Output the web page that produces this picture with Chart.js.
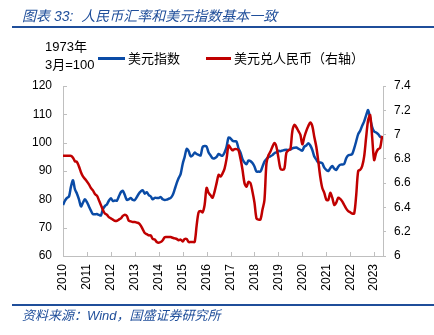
<!DOCTYPE html>
<html>
<head>
<meta charset="utf-8">
<script src="https://cdn.jsdelivr.net/npm/chart.js@4"></script>
<style>
  body { margin: 0; background: #fff; }
  #wrap { position: relative; width: 434px; height: 335px; overflow: hidden; font-family: "Liberation Sans", Arial, "Noto Sans CJK SC", sans-serif; }
  #wrap canvas { position: absolute; left: 0; top: 0; }
  .title { position: absolute; left: 22px; top: 5px; font-size: 14px; font-style: italic; color: #1f4e9a; white-space: pre; font-family: "Liberation Sans", "Noto Sans CJK SC", sans-serif; }
  .rule { position: absolute; left: 12px; right: 0; height: 2px; background: #1f4e9a; }
  .unit { position: absolute; left: 45px; font-size: 13px; color: #000; line-height: 16px; font-family: "Liberation Sans", "Noto Sans CJK SC", sans-serif; }
  .key { position: absolute; top: 50px; font-size: 13px; color: #000; font-family: "Noto Sans CJK SC", sans-serif; line-height: 16px; white-space: nowrap; }
  .swatch { position: absolute; height: 3px; top: 57px; }
  .source { position: absolute; left: 22px; top: 305px; font-size: 13px; font-style: italic; color: #1f4e9a; font-family: "Liberation Sans", "Noto Sans CJK SC", sans-serif; }
</style>
</head>
<body>
<div id="wrap">
  <canvas id="chart" width="434" height="335"></canvas>
  <div class="title">图表 33:  人民币汇率和美元指数基本一致</div>
  <div class="rule" style="top:26px"></div>
  <div class="unit" style="top:39px">1973年</div>
  <div class="unit" style="top:57px">3月=100</div>
  <div class="swatch" style="left:98px;width:27px;background:#0a4ba6"></div>
  <div class="key" style="left:128px">美元指数</div>
  <div class="swatch" style="left:206px;width:25px;background:#c00000"></div>
  <div class="key" style="left:234px">美元兑人民币（右轴）</div>
  <div class="rule" style="top:304px"></div>
  <div class="source">资料来源：Wind，国盛证券研究所</div>
</div>
<script>
// monthly values, Jan 2010 - May 2023
const startYear = 2010;
const xMin = 2010;
const xMax = 2023.37;

const usdIndex = [
  78, 79.5, 80.5, 81, 84.5, 86.7, 83.5, 82, 80, 77.5, 78.8, 80,
  79, 77.5, 76, 74.8, 74.7, 74.8, 74.5, 74.3, 76.5, 77.6, 78.2, 79.5,
  80.4, 79.4, 79.6, 79.5, 81, 82.5, 83, 81.5, 79.8, 80, 80.5, 79.8,
  79.8, 80.8, 82, 82.8, 83.2, 82, 82.5, 81.5, 81, 80, 80.5, 80.5,
  80.5, 80.8, 80, 79.8, 79.9, 80.2, 80.5, 81.5, 83.5, 85.7, 87.5, 89,
  92.5, 95, 97.8, 97, 95.2, 95.5, 96.5, 96, 95.7, 95.5, 98.5, 98.8,
  98.6, 96.5, 95.5, 94.5, 94.5, 95, 96, 95.6, 95.4, 96.5, 98.5, 101.8,
  101.5, 100.7, 100.5, 100.4, 98, 96.5, 94.2, 93, 92.4, 93.7, 93.5, 92.8,
  91.6, 89.8, 89.8, 89.8, 91.5, 93.3, 94.2, 94.9, 95.2, 95.6, 96.3, 96.6,
  97.1, 97, 97.2, 97.4, 97.5, 97.4, 97.6, 98, 98.2, 98.3, 97.9, 97.5,
  97.2, 98.6, 99, 99.8, 99, 97.4, 95.1, 94, 93, 93, 92.7, 91.2,
  90.4, 90, 91, 91.8, 90.8, 90.4, 91.5, 92.2, 92.3, 92.5, 94.5, 95.5,
  95.7, 96, 98, 100.5, 103, 104.2, 106, 107.5, 109.7, 111.5, 108.5, 105.5,
  103.9, 103.6, 103, 102.1, 101.8
];

const usdCny = [
  6.825, 6.825, 6.825, 6.825, 6.825, 6.81, 6.78, 6.775, 6.737, 6.69, 6.655, 6.635,
  6.614, 6.59, 6.56, 6.54, 6.51, 6.497, 6.46, 6.42, 6.38, 6.35, 6.34, 6.32,
  6.31, 6.30, 6.29, 6.29, 6.30, 6.31, 6.33, 6.34, 6.33, 6.29, 6.285, 6.28,
  6.28, 6.275, 6.27, 6.25, 6.22, 6.19, 6.18, 6.17, 6.17, 6.14, 6.135, 6.115,
  6.11, 6.115, 6.13, 6.155, 6.156, 6.156, 6.156, 6.15, 6.145, 6.14, 6.13, 6.135,
  6.12, 6.14, 6.14, 6.115, 6.115, 6.115, 6.115, 6.25, 6.36, 6.37, 6.36, 6.42,
  6.56, 6.52, 6.50, 6.48, 6.53, 6.60, 6.668, 6.655, 6.68, 6.72, 6.80, 6.91,
  6.89, 6.87, 6.88, 6.88, 6.87, 6.80, 6.71, 6.60, 6.57, 6.61, 6.60, 6.53,
  6.44, 6.31, 6.30, 6.30, 6.38, 6.46, 6.76, 6.83, 6.86, 6.90, 6.93, 6.90,
  6.81, 6.72, 6.71, 6.72, 6.85, 6.87, 6.88, 7.03, 7.08, 7.06, 7.03, 7.00,
  6.92, 6.98, 7.03, 7.07, 7.10, 7.07, 6.98, 6.90, 6.78, 6.65, 6.56, 6.52,
  6.465, 6.46, 6.52, 6.48, 6.42, 6.44, 6.48, 6.47, 6.45, 6.42, 6.39, 6.37,
  6.36, 6.35, 6.35, 6.50, 6.70, 6.71, 6.74, 6.82, 6.98, 7.12, 7.16, 6.98,
  6.79, 6.85, 6.88, 6.89, 6.99
];

const axisColor = '#bfbfbf';
const toPoints = arr => arr.map((v, i) => ({ x: startYear + i / 12, y: v }));

// tick marks pointing into the plot (left and bottom axes)
const innerTicks = {
  id: 'innerTicks',
  beforeDatasetsDraw(chart) {
    const { ctx, chartArea, scales } = chart;
    ctx.save();
    ctx.strokeStyle = axisColor;
    ctx.lineWidth = 1;
    ctx.beginPath();
    scales.y.ticks.forEach(t => {
      const y = Math.round(scales.y.getPixelForValue(t.value)) + 0.5;
      ctx.moveTo(chartArea.left, y);
      ctx.lineTo(chartArea.left + 4, y);
    });
    scales.x.ticks.forEach(t => {
      const x = Math.round(scales.x.getPixelForValue(t.value)) + 0.5;
      ctx.moveTo(x, chartArea.bottom);
      ctx.lineTo(x, chartArea.bottom - 4);
    });
    ctx.stroke();
    ctx.restore();
  }
};

Chart.defaults.font.family = '"Liberation Sans", Arial, sans-serif';
Chart.defaults.font.size = 12;
Chart.defaults.color = '#000';

new Chart(document.getElementById('chart').getContext('2d'), {
  type: 'line',
  data: {
    datasets: [
      {
        label: '美元指数',
        data: toPoints(usdIndex),
        borderColor: '#0a4ba6',
        borderWidth: 2.5,
        pointRadius: 0,
        tension: 0.3,
        yAxisID: 'y',
        order: 1
      },
      {
        label: '美元兑人民币（右轴）',
        data: toPoints(usdCny),
        borderColor: '#c00000',
        borderWidth: 2.5,
        pointRadius: 0,
        tension: 0.3,
        yAxisID: 'y1',
        order: 0
      }
    ]
  },
  options: {
    responsive: false,
    animation: false,
    layout: { padding: { top: 86, left: 0, right: 0, bottom: 0 } },
    plugins: { legend: { display: false }, tooltip: { enabled: false } },
    scales: {
      x: {
        type: 'linear',
        min: xMin,
        max: xMax,
        afterFit: s => { s.height = 79; },
        ticks: {
          stepSize: 1,
          includeBounds: false,
          minRotation: 90,
          maxRotation: 90,
          padding: 8,
          callback: v => String(v)
        },
        grid: { drawOnChartArea: false, drawTicks: false },
        border: { color: axisColor }
      },
      y: {
        position: 'left',
        min: 60,
        max: 120,
        afterFit: s => { s.width = 63; },
        ticks: { stepSize: 10, padding: 11 },
        grid: { drawOnChartArea: false, drawTicks: false },
        border: { color: axisColor }
      },
      y1: {
        position: 'right',
        min: 6,
        max: 7.4,
        afterFit: s => { s.width = 51; },
        ticks: { stepSize: 0.2, padding: 8, callback: v => String(Math.round(v * 10) / 10) },
        grid: { drawOnChartArea: false, drawTicks: true, tickLength: 3, color: axisColor },
        border: { color: axisColor }
      }
    }
  },
  plugins: [innerTicks]
});
</script>
</body>
</html>
